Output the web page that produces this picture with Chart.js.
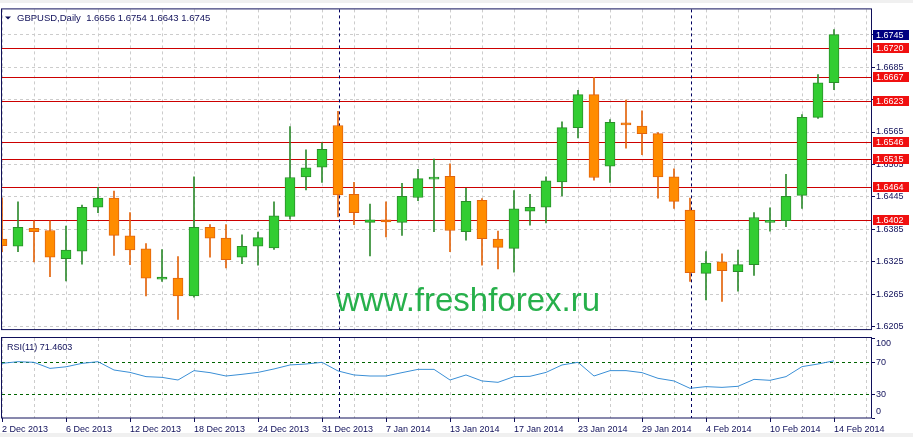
<!DOCTYPE html>
<html>
<head>
<meta charset="utf-8">
<script src="https://cdn.jsdelivr.net/npm/chart.js@4.4.0/dist/chart.umd.min.js"></script>
<style>
html, body { margin: 0; padding: 0; background: #f0f0f0; width: 913px; height: 437px; overflow: hidden; }
#price { position: absolute; left: 0; top: 3px; background: #fff; }
#rsi { position: absolute; left: 0; top: 336px; background: #fff; }
</style>
</head>
<body>
<canvas id="price" width="913" height="333"></canvas>
<canvas id="rsi" width="913" height="97"></canvas>
<script>
const FONT = "'Liberation Sans', Arial, sans-serif";
const NAVY = "#10105a";

// one bar per trading day
const dates = ["2 Dec 2013", "3 Dec 2013", "4 Dec 2013", "5 Dec 2013", "6 Dec 2013",
    "9 Dec 2013", "10 Dec 2013", "11 Dec 2013", "12 Dec 2013", "13 Dec 2013",
    "16 Dec 2013", "17 Dec 2013", "18 Dec 2013", "19 Dec 2013", "20 Dec 2013",
    "23 Dec 2013", "24 Dec 2013", "26 Dec 2013", "27 Dec 2013", "30 Dec 2013", "31 Dec 2013",
    "2 Jan 2014", "3 Jan 2014", "6 Jan 2014", "7 Jan 2014", "8 Jan 2014", "9 Jan 2014", "10 Jan 2014",
    "13 Jan 2014", "14 Jan 2014", "15 Jan 2014", "16 Jan 2014", "17 Jan 2014",
    "20 Jan 2014", "21 Jan 2014", "22 Jan 2014", "23 Jan 2014", "24 Jan 2014",
    "27 Jan 2014", "28 Jan 2014", "29 Jan 2014", "30 Jan 2014", "31 Jan 2014",
    "3 Feb 2014", "4 Feb 2014", "5 Feb 2014", "6 Feb 2014", "7 Feb 2014",
    "10 Feb 2014", "11 Feb 2014", "12 Feb 2014", "13 Feb 2014", "14 Feb 2014"];

const opens = [1.6367, 1.6354, 1.6387, 1.6383, 1.6331, 1.6345, 1.6426, 1.6443, 1.6373, 1.6349,
    1.6293, 1.6295, 1.6262, 1.6389, 1.6369, 1.6334, 1.6354, 1.6351, 1.6409, 1.6482,
    1.6500, 1.6577, 1.6450, 1.6398, 1.6403, 1.6398, 1.6444, 1.6478, 1.6483, 1.6381,
    1.6439, 1.6367, 1.6350, 1.6419, 1.6426, 1.6473, 1.6573, 1.6634, 1.6502, 1.6582,
    1.6576, 1.6562, 1.6482, 1.6421, 1.6304, 1.6325, 1.6307, 1.6320, 1.6398, 1.6401,
    1.6448, 1.6592, 1.6656];
const highs = [1.6443, 1.6436, 1.6401, 1.6401, 1.6391, 1.6430, 1.6463, 1.6456, 1.6416, 1.6359,
    1.6348, 1.6335, 1.6482, 1.6394, 1.6394, 1.6375, 1.6380, 1.6436, 1.6575, 1.6532,
    1.6545, 1.6603, 1.6472, 1.6432, 1.6436, 1.6470, 1.6496, 1.6515, 1.6506, 1.6461,
    1.6442, 1.6382, 1.6457, 1.6450, 1.6482, 1.6584, 1.6642, 1.6666, 1.6588, 1.6624,
    1.6604, 1.6564, 1.6497, 1.6443, 1.6344, 1.6340, 1.6347, 1.6416, 1.6425, 1.6487,
    1.6597, 1.6671, 1.6754];
const lows = [1.6344, 1.6344, 1.6325, 1.6298, 1.6290, 1.6321, 1.6416, 1.6337, 1.6320, 1.6262,
    1.6289, 1.6219, 1.6260, 1.6334, 1.6314, 1.6322, 1.6319, 1.6348, 1.6404, 1.6458,
    1.6472, 1.6408, 1.6394, 1.6336, 1.6371, 1.6374, 1.6438, 1.6381, 1.6344, 1.6365,
    1.6319, 1.6312, 1.6306, 1.6393, 1.6397, 1.6447, 1.6554, 1.6476, 1.6472, 1.6535,
    1.6523, 1.6443, 1.6424, 1.6289, 1.6255, 1.6252, 1.6271, 1.6300, 1.6382, 1.6390,
    1.6424, 1.6590, 1.6643];
const closes = [1.6355, 1.6389, 1.6381, 1.6334, 1.6347, 1.6426, 1.6443, 1.6374, 1.6347, 1.6295,
    1.6297, 1.6262, 1.6389, 1.6369, 1.6329, 1.6354, 1.6370, 1.6410, 1.6481, 1.6499,
    1.6533, 1.6449, 1.6416, 1.6403, 1.6399, 1.6446, 1.6479, 1.6481, 1.6383, 1.6437,
    1.6368, 1.6352, 1.6423, 1.6426, 1.6475, 1.6573, 1.6634, 1.6481, 1.6583, 1.6578,
    1.6562, 1.6482, 1.6437, 1.6305, 1.6323, 1.6309, 1.6320, 1.6407, 1.6401, 1.6446,
    1.6592, 1.6656, 1.6745];

const rsi11 = [68.3, 70.4, 69.6, 62, 64, 68.3, 70.4, 60, 57, 51.7,
    50.8, 47.5, 59.2, 56.7, 52.5, 54.6, 57, 61.3, 66.3, 67.5,
    69.6, 58.8, 53.8, 52.5, 52.5, 56.7, 60.8, 60.8, 47.5, 53.8,
    46.3, 44.6, 51.7, 52.1, 57, 66.3, 69.6, 52.5, 59.2, 59.2,
    56.7, 49.6, 46.3, 37.1, 39.2, 38.3, 39.6, 48.3, 47.1, 51.7,
    64.2, 67.5, 71.5];

const levels = [1.6720, 1.6667, 1.6623, 1.6546, 1.6515, 1.6464, 1.6402];
const lastPrice = 1.6745;
const priceTicks = [1.6205, 1.6265, 1.6325, 1.6385, 1.6445, 1.6505, 1.6565, 1.6625, 1.6685, 1.6745];
const rsiTicks = [100, 70, 30, 0];
const rsiLevels = [70, 30];
const monthStarts = [21, 43];
const headerText = "GBPUSD,Daily  1.6656 1.6754 1.6643 1.6745";
const rsiText = "RSI(11) 71.4603";

const xMin = 0, xMax = 54.375;
const yMin = 1.6200, yMax = 1.67915;

const isUp = (i) => closes[i] >= opens[i];

function drawSeparators(ctx, a, x) {
    ctx.save();
    ctx.strokeStyle = "#000060";
    ctx.lineWidth = 1;
    ctx.setLineDash([3, 3]);
    monthStarts.forEach(i => {
        const px = Math.round(x.getPixelForValue(i)) + 1.5;
        ctx.beginPath(); ctx.moveTo(px, a.top); ctx.lineTo(px, a.bottom); ctx.stroke();
    });
    ctx.restore();
}

function drawFrame(ctx, a) {
    ctx.save();
    ctx.strokeStyle = NAVY;
    ctx.lineWidth = 1;
    ctx.strokeRect(a.left - 0.5, a.top - 0.5, a.right - a.left, a.bottom - a.top + 0.5);
    ctx.restore();
}

function tag(ctx, a, py, text, bg) {
    ctx.fillStyle = bg;
    ctx.fillRect(a.right + 1, Math.round(py) - 5, 36, 10);
    ctx.fillStyle = "#ffffff";
    ctx.textBaseline = "middle";
    ctx.textAlign = "left";
    ctx.fillText(text, a.right + 4, Math.round(py) + 0.5);
}

const pricePlugin = {
    id: "pricePlugin",
    beforeDatasetsDraw(chart) {
        const {ctx, chartArea: a, scales: {x, y}} = chart;
        ctx.save();
        ctx.strokeStyle = "#cc0000";
        ctx.lineWidth = 1;
        levels.forEach(v => {
            const py = Math.round(y.getPixelForValue(v)) + 0.5;
            ctx.beginPath(); ctx.moveTo(a.left, py); ctx.lineTo(a.right, py); ctx.stroke();
        });
        ctx.restore();
        drawSeparators(ctx, a, x);
    },
    afterDraw(chart) {
        const {ctx, chartArea: a, scales: {y}} = chart;
        drawFrame(ctx, a);
        ctx.save();
        ctx.font = "9px " + FONT;
        levels.forEach(v => tag(ctx, a, y.getPixelForValue(v), v.toFixed(4), "#f01010"));
        tag(ctx, a, y.getPixelForValue(lastPrice), lastPrice.toFixed(4), "#000080");

        // header
        ctx.fillStyle = NAVY;
        ctx.beginPath();
        ctx.moveTo(5, a.top + 7); ctx.lineTo(11, a.top + 7); ctx.lineTo(8, a.top + 10);
        ctx.closePath(); ctx.fill();
        ctx.font = "9.5px " + FONT;
        ctx.textBaseline = "alphabetic";
        ctx.textAlign = "left";
        ctx.fillText(headerText, 17, a.top + 12);

        // watermark
        ctx.font = "33px " + FONT;
        ctx.fillStyle = "#27b04b";
        ctx.fillText("www.freshforex.ru", 336, 308);
        ctx.restore();
    },
};

const rsiPlugin = {
    id: "rsiPlugin",
    beforeDatasetsDraw(chart) {
        const {ctx, chartArea: a, scales: {x, y}} = chart;
        ctx.save();
        ctx.strokeStyle = "#006400";
        ctx.lineWidth = 1;
        ctx.setLineDash([3, 3]);
        rsiLevels.forEach(v => {
            const py = Math.round(y.getPixelForValue(v)) + 0.5;
            ctx.beginPath(); ctx.moveTo(a.left, py); ctx.lineTo(a.right, py); ctx.stroke();
        });
        ctx.restore();
        drawSeparators(ctx, a, x);
    },
    afterDraw(chart) {
        const {ctx, chartArea: a, scales: {y}} = chart;
        drawFrame(ctx, a);
        ctx.save();
        ctx.font = "9px " + FONT;
        ctx.fillStyle = NAVY;
        ctx.strokeStyle = NAVY;
        ctx.textAlign = "left";
        ctx.textBaseline = "middle";
        rsiTicks.forEach(v => {
            const py = Math.round(y.getPixelForValue(v)) + 0.5;
            ctx.beginPath(); ctx.moveTo(a.right, py); ctx.lineTo(a.right + 3, py); ctx.stroke();
            const ly = Math.min(Math.max(py, a.top + 6), a.bottom - 6);
            ctx.fillText(String(v), a.right + 4, ly);
        });
        ctx.textBaseline = "alphabetic";
        ctx.fillText(rsiText, 7, a.top + 12);
        ctx.restore();
    },
};

new Chart(document.getElementById("price"), {
    type: "bar",
    data: {
        datasets: [
            {
                label: "body", order: 0, grouped: false,
                data: opens.map((o, i) => ({x: i, y: [o, closes[i]]})),
                barThickness: 10, minBarLength: 2, borderWidth: 1, borderSkipped: false,
                backgroundColor: opens.map((o, i) => isUp(i) ? "#32cd32" : "#ff8c00"),
                borderColor: opens.map((o, i) => isUp(i) ? "#2a8f2a" : "#e2640c"),
            },
            {
                label: "wick", order: 1, grouped: false,
                data: lows.map((l, i) => ({x: i, y: [l, highs[i]]})),
                barThickness: 1, borderWidth: 0,
                backgroundColor: lows.map((l, i) => isUp(i) ? "#2e8b2e" : "#e2640c"),
            },
        ],
    },
    options: {
        responsive: false,
        animation: false,
        layout: {padding: {left: 2, top: 4, right: 0, bottom: 1}},
        plugins: {legend: {display: false}, tooltip: {enabled: false}},
        scales: {
            x: {
                type: "linear", min: xMin, max: xMax, offset: false,
                ticks: {display: false, stepSize: 2, includeBounds: false},
                grid: {color: "#cccccc", drawTicks: false, offset: false},
                border: {display: false, dash: [3, 3]},
                afterFit: (s) => { s.height = 0; },
            },
            y: {
                position: "right", min: yMin, max: yMax,
                afterBuildTicks: (s) => { s.ticks = priceTicks.map(v => ({value: v})); },
                ticks: {color: NAVY, font: {family: FONT, size: 9}, padding: 1,
                        callback: (v) => Number(v).toFixed(4)},
                grid: {color: "#cccccc", tickColor: NAVY, tickLength: 3, tickBorderDash: []},
                border: {display: false, dash: [3, 3]},
                afterFit: (s) => { s.width = 41; },
            },
        },
    },
    plugins: [pricePlugin],
});

new Chart(document.getElementById("rsi"), {
    type: "line",
    data: {
        datasets: [{
            label: "RSI(11)",
            data: rsi11.map((v, i) => ({x: i, y: v})),
            borderColor: "#3a8fd6", borderWidth: 1, pointRadius: 0, tension: 0, fill: false,
        }],
    },
    options: {
        responsive: false,
        animation: false,
        layout: {padding: {left: 2, top: 2, right: 0, bottom: 0}},
        plugins: {legend: {display: false}, tooltip: {enabled: false}},
        scales: {
            x: {
                type: "linear", min: xMin, max: xMax, offset: false,
                ticks: {stepSize: 2, includeBounds: false, autoSkip: false, maxRotation: 0, minRotation: 0,
                        align: "start", padding: 2, color: NAVY, font: {family: FONT, size: 9},
                        callback: (v) => (v % 4 === 0 && dates[v]) ? dates[v] : ""},
                grid: {color: "#cccccc", tickLength: 4, tickBorderDash: [],
                       tickColor: (c) => (c.tick && c.tick.value % 4 === 0) ? NAVY : "rgba(0,0,0,0)"},
                border: {display: false, dash: [3, 3]},
                afterFit: (s) => { s.height = 15; },
            },
            y: {
                position: "right", min: 0, max: 100,
                ticks: {display: false},
                grid: {display: false},
                border: {display: false},
                afterFit: (s) => { s.width = 41; },
            },
        },
    },
    plugins: [rsiPlugin],
});
</script>
</body>
</html>
